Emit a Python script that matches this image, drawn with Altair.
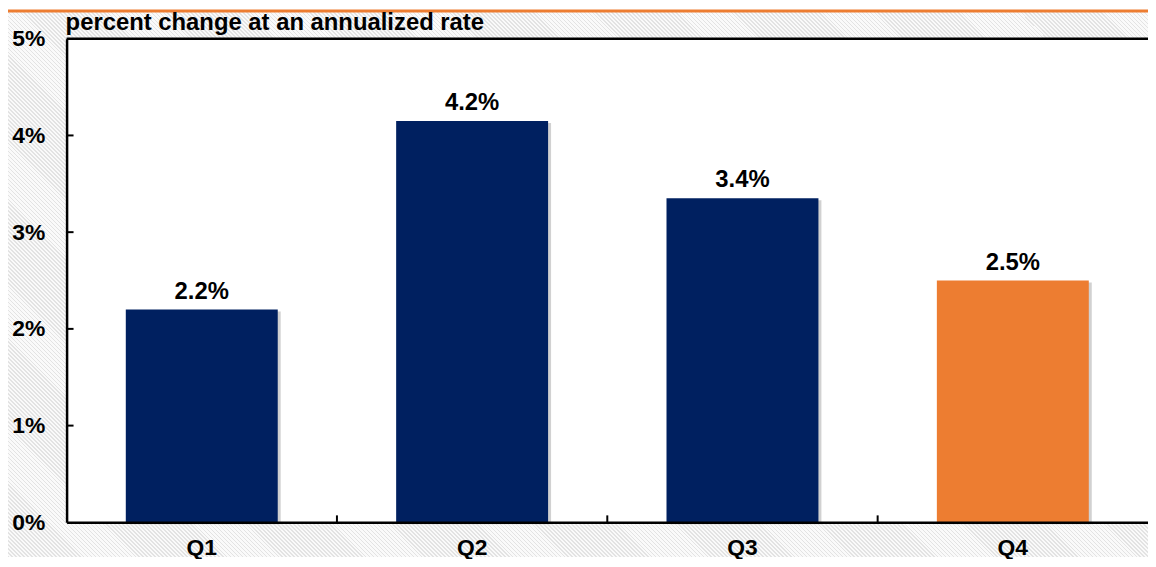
import altair as alt
import pandas as pd

# ---- data ----
quarters = ["Q1", "Q2", "Q3", "Q4"]
values = [2.2, 4.15, 3.35, 2.5]
value_labels = ["2.2%", "4.2%", "3.4%", "2.5%"]
is_latest = [False, False, False, True]
y_tick_values = [0, 1, 2, 3, 4, 5]
inner_tick_values = [1, 2, 3, 4]
boundary_quarters = ["Q2", "Q3", "Q4"]
subtitle = "percent change at an annualized rate"

# ---- layout / style ----
PAD_L, PAD_T, PAD_B = 59, 29, 35
W, H = 1089, 487
SVG_W, SVG_H = PAD_L + W, PAD_T + H + PAD_B
FONT = "Liberation Sans"
NAVY = "#002060"
ORANGE = "#ED7D31"

bars_df = pd.DataFrame({"q": quarters, "v": values, "label": value_labels, "latest": is_latest})
ticks_df = pd.DataFrame({"v": inner_tick_values})
bound_df = pd.DataFrame({"q": boundary_quarters})
one = alt.Data(values=[{"k": 1}])

# hatched background as a striped linear gradient (45 degree, 4px period)
r = SVG_H / SVG_W
k = (1 + r) / (1 + r * r)
n_stripes = (SVG_W + SVG_H) / 4.0
stops = []
i = 0
while i / n_stripes < 1:
    a = i / n_stripes
    b = min((i + 0.4) / n_stripes, 1)
    c = min((i + 1) / n_stripes, 1)
    stops += [
        {"offset": round(a, 5), "color": "#e3e3e3"},
        {"offset": round(b, 5), "color": "#e3e3e3"},
        {"offset": round(b, 5), "color": "#fafafa"},
        {"offset": round(c, 5), "color": "#fafafa"},
    ]
    i += 1
hatch = {"gradient": "linear", "x1": 0, "y1": 1, "x2": k, "y2": 1 - k * r, "stops": stops}

x_scale = alt.Scale(domain=quarters, paddingInner=0, paddingOuter=0)
y_scale = alt.Scale(domain=[0, 5], nice=False)
x_axis = alt.Axis(labelAngle=0, ticks=False, tickSize=0, domain=True,
                  domainColor="black", domainWidth=2.5, labelFont=FONT,
                  labelFontSize=23, labelFontWeight="bold", labelColor="black",
                  labelPadding=14, grid=False, title=None, zindex=1)
y_axis = alt.Axis(values=y_tick_values, labelExpr="datum.value + '%'",
                  ticks=False, tickSize=0, domain=True, domainColor="black",
                  domainWidth=2.5, labelFont=FONT, labelFontSize=23,
                  labelFontWeight="bold", labelColor="black",
                  labelPadding=22, grid=False, title=None, zindex=1)

background = alt.Chart(one).mark_rect(fill=hatch, strokeWidth=0).encode(
    x=alt.value(-PAD_L), x2=alt.value(W), y=alt.value(-PAD_T), y2=alt.value(H + PAD_B)
)
plot_bg = alt.Chart(one).mark_rect(fill="white", strokeWidth=0).encode(
    x=alt.value(0), x2=alt.value(W), y=alt.value(0), y2=alt.value(H)
)
orange_line = alt.Chart(one).mark_rule(color=ORANGE, strokeWidth=3).encode(
    x=alt.value(-PAD_L), x2=alt.value(W), y=alt.value(-PAD_T + 1)
)
top_border = alt.Chart(one).mark_rule(color="black", strokeWidth=2.5).encode(
    x=alt.value(0), x2=alt.value(W), y=alt.value(0)
)
title_text = alt.Chart(one).mark_text(
    text=subtitle, align="left", baseline="alphabetic", font=FONT,
    fontSize=24, fontWeight="bold", color="black"
).encode(x=alt.value(-1), y=alt.value(-9))

shadow = alt.Chart(bars_df).mark_bar(
    width={"band": 0.562}, xOffset=3, yOffset=2, color="#9a9a9a", opacity=0.45
).encode(
    x=alt.X("q:N", scale=x_scale, axis=x_axis, sort=quarters),
    y=alt.Y("v:Q", scale=y_scale, axis=y_axis),
)

bars = alt.Chart(bars_df).mark_bar(width={"band": 0.562}).encode(
    x=alt.X("q:N", scale=x_scale, axis=x_axis, sort=quarters),
    y=alt.Y("v:Q", scale=y_scale, axis=y_axis),
    color=alt.Color("latest:N", scale=alt.Scale(domain=[False, True], range=[NAVY, ORANGE]),
                    legend=None),
)

bar_labels = alt.Chart(bars_df).mark_text(
    baseline="alphabetic", dy=-11, font=FONT, fontSize=24, fontWeight="bold", color="black"
).encode(
    x=alt.X("q:N", scale=x_scale, axis=x_axis, sort=quarters),
    y=alt.Y("v:Q", scale=y_scale, axis=y_axis),
    text="label:N",
)

y_ticks = alt.Chart(ticks_df).mark_rule(color="black", strokeWidth=2).encode(
    y=alt.Y("v:Q", scale=y_scale, axis=y_axis), x=alt.value(0), x2=alt.value(7)
)
x_ticks = alt.Chart(bound_df).mark_rule(color="black", strokeWidth=2).encode(
    x=alt.X("q:N", scale=x_scale, axis=x_axis, bandPosition=0, sort=quarters),
    y=alt.value(H), y2=alt.value(H - 7)
)

chart = alt.layer(
    background, plot_bg, orange_line, title_text, shadow, bars, bar_labels,
    y_ticks, x_ticks, top_border
).properties(
    width=W, height=H,
    autosize=alt.AutoSizeParams(type="none"),
    padding={"left": PAD_L, "top": PAD_T, "right": 0, "bottom": PAD_B},
).configure_view(stroke=None, fill=None)

chart.save("out.html", embed_options={"renderer": "svg", "actions": False})
